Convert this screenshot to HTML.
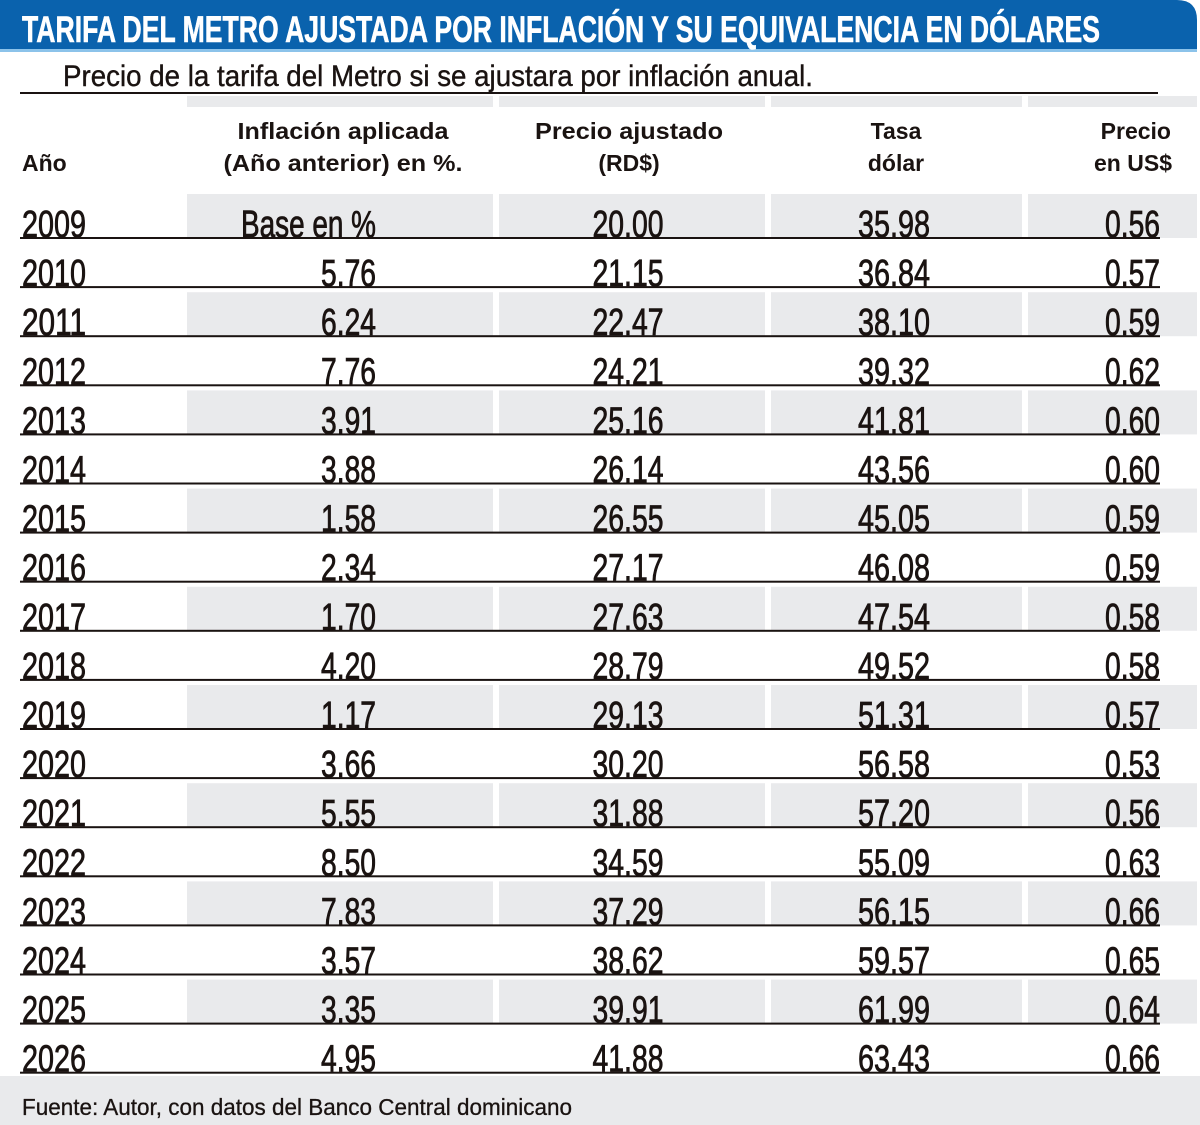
<!DOCTYPE html>
<html><head><meta charset="utf-8"><style>
html,body{margin:0;padding:0;background:#fff;width:1200px;height:1125px;overflow:hidden}
svg{display:block}
.n{font-family:"Liberation Sans",sans-serif;font-size:38px;fill:#1a1311;stroke:#1a1311;stroke-width:0.8}
.h{font-family:"Liberation Sans",sans-serif;font-weight:bold;font-size:23px;fill:#1a1311}
</style></head><body>
<svg id="s" width="1200" height="1125" xmlns="http://www.w3.org/2000/svg">
<path d="M0 0 H1177 Q1197 0 1197 20 V50 H0 Z" fill="#0a62ad"/>
<rect x="0" y="49" width="1197" height="3" fill="#8cc3ea"/>
<text x="22" y="42" font-family="Liberation Sans Narrow, Liberation Sans, sans-serif" font-weight="bold" font-size="37" fill="#fff" stroke="#fff" stroke-width="0.6" textLength="1078" lengthAdjust="spacingAndGlyphs">TARIFA DEL METRO AJUSTADA POR INFLACIÓN Y SU EQUIVALENCIA EN DÓLARES</text>
<text x="63" y="86" font-family="Liberation Sans, sans-serif" font-size="30" fill="#1a1311" stroke="#1a1311" stroke-width="0.4" textLength="750" lengthAdjust="spacingAndGlyphs">Precio de la tarifa del Metro si se ajustara por inflación anual.</text>
<rect x="20" y="92" width="1138" height="2" fill="#1a1311"/>
<g fill="#e9eaec">
<rect x="187" y="96" width="306" height="11"/><rect x="499" y="96" width="266" height="11"/><rect x="771" y="96" width="251" height="11"/><rect x="1028" y="96" width="169" height="11"/>
<rect x="0" y="1076" width="1200" height="49"/>
</g>
<g id="bands" fill="#e9eaec"></g>
<text class="h" x="343" y="139" text-anchor="middle" textLength="211" lengthAdjust="spacingAndGlyphs">Inflación aplicada</text>
<text class="h" x="343" y="171" text-anchor="middle" textLength="239" lengthAdjust="spacingAndGlyphs">(Año anterior) en %.</text>
<text class="h" x="22" y="171">Año</text>
<text class="h" x="629" y="139" text-anchor="middle" textLength="188" lengthAdjust="spacingAndGlyphs">Precio ajustado</text>
<text class="h" x="629" y="171" text-anchor="middle">(RD$)</text>
<text class="h" x="896" y="139" text-anchor="middle">Tasa</text>
<text class="h" x="896" y="171" text-anchor="middle">dólar</text>
<text class="h" x="1171" y="139" text-anchor="end">Precio</text>
<text class="h" x="1172" y="171" text-anchor="end">en US$</text>
<g id="rows"></g>
<text x="22" y="1115" font-family="Liberation Sans, sans-serif" font-size="23" fill="#1a1311" stroke="#1a1311" stroke-width="0.3" textLength="550" lengthAdjust="spacingAndGlyphs">Fuente: Autor, con datos del Banco Central dominicano</text>
</svg>
<script>
(function(){
var NS="http://www.w3.org/2000/svg";
var d=[["2009","Base en %","20.00","35.98","0.56"],["2010","5.76","21.15","36.84","0.57"],["2011","6.24","22.47","38.10","0.59"],["2012","7.76","24.21","39.32","0.62"],["2013","3.91","25.16","41.81","0.60"],["2014","3.88","26.14","43.56","0.60"],["2015","1.58","26.55","45.05","0.59"],["2016","2.34","27.17","46.08","0.59"],["2017","1.70","27.63","47.54","0.58"],["2018","4.20","28.79","49.52","0.58"],["2019","1.17","29.13","51.31","0.57"],["2020","3.66","30.20","56.58","0.53"],["2021","5.55","31.88","57.20","0.56"],["2022","8.50","34.59","55.09","0.63"],["2023","7.83","37.29","56.15","0.66"],["2024","3.57","38.62","59.57","0.65"],["2025","3.35","39.91","61.99","0.64"],["2026","4.95","41.88","63.43","0.66"]];
var B=document.getElementById("bands"),R=document.getElementById("rows"),sp=49.1;
function rect(g,x,y,w,h,f){var e=document.createElementNS(NS,"rect");e.setAttribute("x",x);e.setAttribute("y",y);e.setAttribute("width",w);e.setAttribute("height",h);if(f)e.setAttribute("fill",f);g.appendChild(e);}
function txt(x,y,s,a,w){var e=document.createElementNS(NS,"text");e.setAttribute("class","n");e.setAttribute("x",x);e.setAttribute("y",y);e.setAttribute("text-anchor",a);e.setAttribute("textLength",w);e.setAttribute("lengthAdjust","spacingAndGlyphs");e.textContent=s;R.appendChild(e);}
for(var i=0;i<d.length;i++){
 var L=238+sp*i, y=L-1;
 if(i%2==0&&i<17){var tp=L-44;
  rect(B,187,tp,306,44);rect(B,499,tp,266,44);rect(B,771,tp,251,44);rect(B,1028,tp,169,44);}
 rect(R,20,L-1,1140,2,"#1a1311");
 txt(22,y,d[i][0],"start",64);
 txt(376,y,d[i][1],"end",i==0?135:55);
 txt(628,y,d[i][2],"middle",71);
 txt(894,y,d[i][3],"middle",72);
 txt(1160,y,d[i][4],"end",55);
}
})();
</script>
</body></html>
